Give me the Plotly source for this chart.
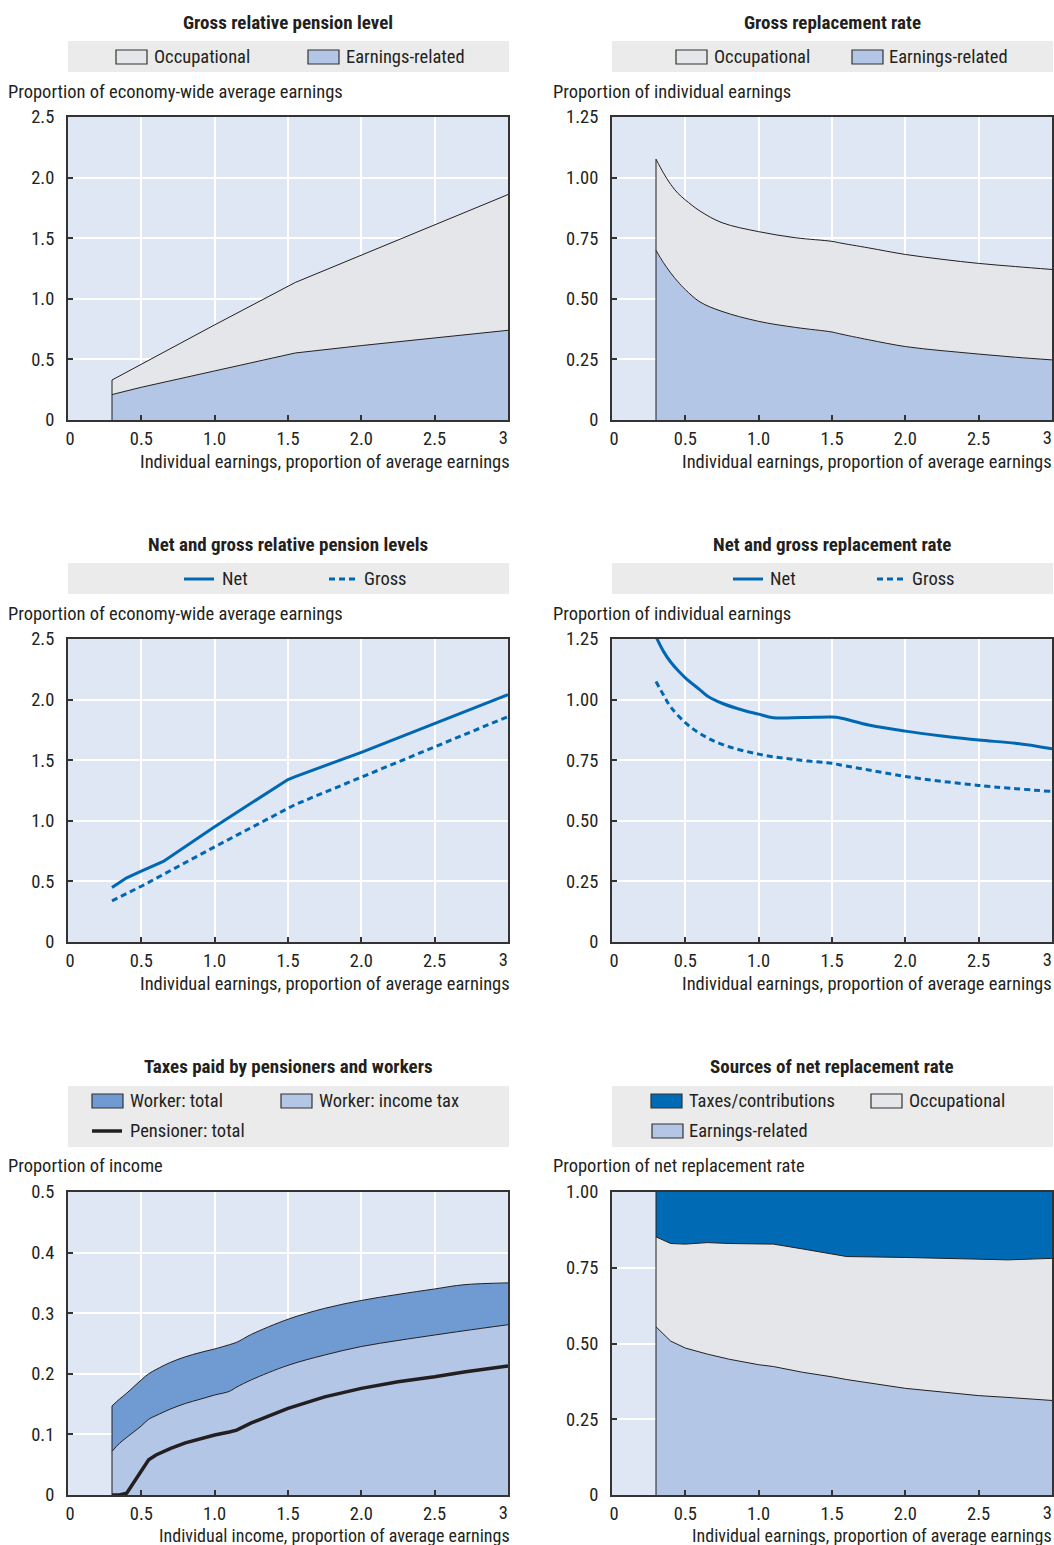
import plotly.graph_objects as go

W, H = 1054, 1545
FONT = "Liberation Sans Narrow, Arial Narrow, Roboto Condensed, DejaVu Sans Condensed, sans-serif"
TXT = "#231f20"
FRAME = "#333333"
PLOT_BG = "#dfe6f4"
EARN_C = "#b3c6e6"
OCC_C = "#e5e6e9"
WT_C = "#6f9bd2"
TAX_C = "#006ab4"
NET_C = "#0068b3"
LEG_BG = "#ebebeb"
FS = 18.5
TFS = 19
NB = "\u00a0"

# ---------------- data ----------------
x_ticks = [0, 0.5, 1.0, 1.5, 2.0, 2.5, 3.0]
x_tick_text = ["0", "0.5", "1.0", "1.5", "2.0", "2.5", "3"]

# Panel 1: gross relative pension level (cumulative boundaries)
p1_x = [0.3, 0.5, 1.0, 1.55, 2.0, 2.5, 3.0]
p1_earnings = [0.21, 0.27, 0.405, 0.553, 0.614, 0.677, 0.74]
p1_earn_plus_occ = [0.33, 0.46, 0.785, 1.135, 1.36, 1.61, 1.86]
p1_yticks = [0, 0.5, 1.0, 1.5, 2.0, 2.5]
p1_ytext = ["0", "0.5", "1.0", "1.5", "2.0", "2.5"]

# Panel 2: gross replacement rate
p2_x = [0.3, 0.35, 0.4, 0.45, 0.5, 0.6, 0.75, 1.0, 1.25, 1.5, 1.55, 1.75, 2.0, 2.25, 2.5, 2.75, 3.0]
p2_earnings = [0.70, 0.65, 0.607, 0.57, 0.538, 0.487, 0.448, 0.407, 0.382, 0.363, 0.356, 0.331, 0.303, 0.286, 0.272, 0.259, 0.248]
p2_earn_plus_occ = [1.076, 1.02, 0.972, 0.935, 0.908, 0.862, 0.814, 0.777, 0.752, 0.737, 0.731, 0.71, 0.683, 0.663, 0.646, 0.633, 0.621]
p2_yticks = [0, 0.25, 0.5, 0.75, 1.0, 1.25]
p2_ytext = ["0", "0.25", "0.50", "0.75", "1.00", "1.25"]

# Panel 3: net and gross relative pension levels
p3_x_net = [0.3, 0.4, 0.5, 0.65, 1.0, 1.1, 1.5, 1.55, 2.0, 2.5, 3.0]
p3_net = [0.45, 0.53, 0.585, 0.665, 0.95, 1.03, 1.34, 1.365, 1.565, 1.80, 2.04]
p3_x_gross = [0.3, 0.5, 1.0, 1.55, 2.0, 2.5, 3.0]
p3_gross = [0.34, 0.46, 0.785, 1.135, 1.36, 1.61, 1.86]

# Panel 4: net and gross replacement rate
p4_x_net = [0.3, 0.35, 0.4, 0.45, 0.5, 0.6, 0.65, 0.75, 0.9, 1.0, 1.1, 1.3, 1.5, 1.55, 1.75, 2.0, 2.25, 2.5, 2.75, 3.0]
p4_net = [1.26, 1.20, 1.155, 1.12, 1.09, 1.04, 1.015, 0.985, 0.955, 0.94, 0.925, 0.926, 0.928, 0.925, 0.895, 0.87, 0.85, 0.833, 0.82, 0.797]
p4_x_gross = [0.3, 0.35, 0.4, 0.5, 0.6, 0.75, 1.0, 1.25, 1.5, 1.55, 1.75, 2.0, 2.5, 3.0]
p4_gross = [1.075, 1.02, 0.97, 0.905, 0.86, 0.815, 0.775, 0.752, 0.737, 0.731, 0.71, 0.683, 0.646, 0.621]

# Panel 5: taxes paid by pensioners and workers
p5_x = [0.3, 0.35, 0.4, 0.5, 0.55, 0.6, 0.7, 0.8, 0.9, 1.0, 1.1, 1.15, 1.25, 1.5, 1.75, 2.0, 2.25, 2.5, 2.7, 3.0]
p5_worker_total = [0.147, 0.158, 0.168, 0.19, 0.2, 0.207, 0.219, 0.228, 0.235, 0.241, 0.248, 0.252, 0.265, 0.29, 0.308, 0.321, 0.331, 0.34, 0.347, 0.35]
p5_worker_income_tax = [0.072, 0.085, 0.095, 0.114, 0.125, 0.131, 0.142, 0.151, 0.158, 0.165, 0.171, 0.178, 0.19, 0.214, 0.231, 0.245, 0.255, 0.264, 0.271, 0.281]
p5_pensioner_total = [0.0, 0.0, 0.003, 0.04, 0.058, 0.066, 0.077, 0.086, 0.093, 0.099, 0.104, 0.107, 0.119, 0.143, 0.162, 0.176, 0.187, 0.195, 0.203, 0.213]
p5_yticks = [0, 0.1, 0.2, 0.3, 0.4, 0.5]
p5_ytext = ["0", "0.1", "0.2", "0.3", "0.4", "0.5"]

# Panel 6: sources of net replacement rate (cumulative boundaries)
p6_x = [0.3, 0.4, 0.5, 0.65, 0.8, 1.0, 1.1, 1.3, 1.5, 1.6, 2.0, 2.5, 2.7, 3.0]
p6_earnings = [0.555, 0.508, 0.485, 0.465, 0.448, 0.43, 0.424, 0.405, 0.39, 0.381, 0.352, 0.328, 0.322, 0.312]
p6_earn_plus_occ = [0.852, 0.830, 0.828, 0.833, 0.830, 0.829, 0.828, 0.812, 0.795, 0.787, 0.784, 0.780, 0.776, 0.781]
p6_total = [1.0] * len(p6_x)
p6_yticks = [0, 0.25, 0.5, 0.75, 1.0]
p6_ytext = ["0", "0.25", "0.50", "0.75", "1.00"]

# ---------------- layout geometry (pixels) ----------------
COLS = [(68, 508), (612, 1052)]
ROWS = [(117, 420), (639, 942), (1192, 1495)]


def px(x):
    return x / W


def py(y):
    return 1 - y / H


fig = go.Figure()
layout = dict(
    width=W, height=H, margin=dict(l=0, r=0, t=0, b=0, autoexpand=False),
    paper_bgcolor="white", plot_bgcolor=PLOT_BG, showlegend=False,
    font=dict(family=FONT, size=FS, color=TXT), template="none",
)

panel_specs = [
    (0, 0, [0, 2.5], p1_yticks, p1_ytext),
    (1, 0, [0, 1.25], p2_yticks, p2_ytext),
    (0, 1, [0, 2.5], p1_yticks, p1_ytext),
    (1, 1, [0, 1.25], p2_yticks, p2_ytext),
    (0, 2, [0, 0.5], p5_yticks, p5_ytext),
    (1, 2, [0, 1.0], p6_yticks, p6_ytext),
]
main_tickvals = x_ticks[:-1]
main_ticktext = [NB + x_tick_text[0]] + x_tick_text[1:-1]
for i, (c, r, yr, yt, ytt) in enumerate(panel_specs, start=1):
    sfx = "" if i == 1 else str(i)
    x0, x1 = COLS[c]
    y0, y1 = ROWS[r]
    layout["xaxis" + sfx] = dict(
        domain=[px(x0), px(x1)], anchor="y" + sfx, range=[0, 3],
        tickvals=main_tickvals, ticktext=main_ticktext, showgrid=True, gridcolor="white",
        gridwidth=1.5, ticks="inside", ticklen=5, tickwidth=1.5, tickcolor=FRAME,
        showline=True, mirror=True, linecolor=FRAME, linewidth=2, zeroline=False,
        tickfont=dict(size=FS, color=TXT), ticklabelstandoff=1, automargin=False,
    )
    layout["yaxis" + sfx] = dict(
        domain=[py(y1), py(y0)], anchor="x" + sfx, range=yr,
        tickvals=yt, ticktext=ytt, showgrid=True, gridcolor="white",
        gridwidth=1.5, ticks="inside", ticklen=5, tickwidth=1.5, tickcolor=FRAME,
        showline=True, mirror=True, linecolor=FRAME, linewidth=2, zeroline=False,
        tickfont=dict(size=FS, color=TXT), ticklabelstandoff=8, automargin=False,
    )
    # overlay axis carrying only the last x label, right-aligned to its tick
    ov = "xaxis%d" % (i + 6)
    layout[ov] = dict(
        overlaying="x" + sfx, anchor="y" + sfx, side="bottom", range=[0, 3],
        tickvals=[x_ticks[-1]], ticktext=[x_tick_text[-1]], ticklabelposition="outside left",
        showgrid=False, showline=False, zeroline=False, ticks="",
        tickfont=dict(size=FS, color=TXT), ticklabelstandoff=4, automargin=False,
        ticklabeloverflow="allow",
    )


def ax(i):
    return ("x", "y") if i == 1 else ("x%d" % i, "y%d" % i)


def add(i, **kw):
    xa, ya = ax(i)
    fig.add_trace(go.Scatter(xaxis=xa, yaxis=ya, hoverinfo="skip", **kw))


EDGE = dict(color="#231f20", width=1)

# Panel 1
add(1, x=p1_x, y=p1_earnings, mode="lines", fill="tozeroy", fillcolor=EARN_C, line=EDGE)
add(1, x=p1_x, y=p1_earn_plus_occ, mode="lines", fill="tonexty", fillcolor=OCC_C, line=EDGE)
add(1, x=[p1_x[0], p1_x[0]], y=[0, p1_earn_plus_occ[0]], mode="lines", line=EDGE)

# Panel 2
add(2, x=p2_x, y=p2_earnings, mode="lines", fill="tozeroy", fillcolor=EARN_C, line=dict(EDGE, shape="spline"))
add(2, x=p2_x, y=p2_earn_plus_occ, mode="lines", fill="tonexty", fillcolor=OCC_C, line=dict(EDGE, shape="spline"))
add(2, x=[p2_x[0], p2_x[0]], y=[0, p2_earn_plus_occ[0]], mode="lines", line=EDGE)

# Panel 3
add(3, x=p3_x_gross, y=p3_gross, mode="lines", line=dict(color=NET_C, width=3, dash="6px,4px"))
add(3, x=p3_x_net, y=p3_net, mode="lines", line=dict(color=NET_C, width=3))

# Panel 4
add(4, x=p4_x_gross, y=p4_gross, mode="lines", line=dict(color=NET_C, width=3, dash="6px,4px", shape="spline"))
add(4, x=p4_x_net, y=p4_net, mode="lines", line=dict(color=NET_C, width=3, shape="spline"))

# Panel 5
add(5, x=p5_x, y=p5_worker_total, mode="lines", fill="tozeroy", fillcolor=WT_C, line=dict(EDGE, shape="spline"))
add(5, x=p5_x, y=p5_worker_income_tax, mode="lines", fill="tozeroy", fillcolor=EARN_C, line=dict(EDGE, shape="spline"))
add(5, x=[p5_x[0], p5_x[0]], y=[0, p5_worker_total[0]], mode="lines", line=EDGE)
add(5, x=p5_x, y=p5_pensioner_total, mode="lines", line=dict(color="#231f20", width=3.5))

# Panel 6
add(6, x=p6_x, y=p6_earnings, mode="lines", fill="tozeroy", fillcolor=EARN_C, line=EDGE)
add(6, x=p6_x, y=p6_earn_plus_occ, mode="lines", fill="tonexty", fillcolor=OCC_C, line=EDGE)
add(6, x=p6_x, y=p6_total, mode="lines", fill="tonexty", fillcolor=TAX_C, line=dict(width=0))
add(6, x=[p6_x[0], p6_x[0]], y=[0, p6_total[0]], mode="lines", line=EDGE)

# empty traces that register the overlay axes carrying the last x tick label
for i in range(1, 7):
    fig.add_trace(go.Scatter(x=[], y=[], xaxis="x%d" % (i + 6), yaxis=ax(i)[1], hoverinfo="skip"))

# ---------------- annotations and legend boxes ----------------
ann = []
shapes = []


def text(x, y, s, xanchor="left", size=FS, bold=False):
    ann.append(dict(
        xref="paper", yref="paper", x=px(x), y=py(y), text=("<b>%s</b>" % s if bold else s),
        showarrow=False, xanchor=xanchor, yanchor="middle",
        font=dict(family=FONT, size=size, color=TXT),
    ))


def box_sym(x, y, color):
    shapes.append(dict(type="rect", xref="paper", yref="paper",
                       x0=px(x), x1=px(x + 31), y0=py(y + 7), y1=py(y - 7),
                       fillcolor=color, line=dict(color=FRAME, width=1.2)))


def line_sym(x, y, color, width=3, dash="solid"):
    shapes.append(dict(type="line", xref="paper", yref="paper",
                       x0=px(x), x1=px(x + 30), y0=py(y), y1=py(y),
                       line=dict(color=color, width=width, dash=dash)))


def legend_bg(c, y0, y1):
    x0, x1 = COLS[c]
    shapes.append(dict(type="rect", xref="paper", yref="paper", layer="below",
                       x0=px(x0), x1=px(x1 + 1), y0=py(y1), y1=py(y0),
                       fillcolor=LEG_BG, line=dict(width=0)))


titles = [
    (0, 22, "Gross relative pension level"),
    (1, 22, "Gross replacement rate"),
    (0, 544, "Net and gross relative pension levels"),
    (1, 544, "Net and gross replacement rate"),
    (0, 1066, "Taxes paid by pensioners and workers"),
    (1, 1066, "Sources of net replacement rate"),
]
for c, y, s in titles:
    x0, x1 = COLS[c]
    text((x0 + x1) / 2, y, s, xanchor="center", size=TFS, bold=True)

ytitles = [
    (6, 92, "Proportion of economy-wide average earnings"),
    (551, 92, "Proportion of individual earnings"),
    (6, 614, "Proportion of economy-wide average earnings"),
    (551, 614, "Proportion of individual earnings"),
    (6, 1166, "Proportion of income"),
    (551, 1166, "Proportion of net replacement rate"),
]
for x, y, s in ytitles:
    text(x, y, s)

xtitles = [
    (0, 462, FS, "Individual earnings, proportion of average earnings"),
    (1, 462, FS, "Individual earnings, proportion of average earnings"),
    (0, 984, FS, "Individual earnings, proportion of average earnings"),
    (1, 984, FS, "Individual earnings, proportion of average earnings"),
    (0, 1535, 18, "Individual income, proportion of average earnings"),
    (1, 1535, 18, "Individual earnings, proportion of average earnings"),
]
for c, y, s_, s in xtitles:
    text(min(COLS[c][1] + 4, W), y, s, xanchor="right", size=s_)

# legends row 1
legend_bg(0, 41, 72)
legend_bg(1, 41, 72)
box_sym(116, 57, OCC_C); text(152, 57, "Occupational")
box_sym(308, 57, EARN_C); text(344, 57, "Earnings-related")
box_sym(676, 57, OCC_C); text(712, 57, "Occupational")
box_sym(852, 57, EARN_C); text(887, 57, "Earnings-related")

# legends row 2
legend_bg(0, 563, 594)
legend_bg(1, 563, 594)
line_sym(184, 579, NET_C); text(220, 579, "Net")
line_sym(329, 579, NET_C, dash="6px,4px"); text(362, 579, "Gross")
line_sym(733, 579, NET_C); text(768, 579, "Net")
line_sym(877, 579, NET_C, dash="6px,4px"); text(910, 579, "Gross")

# legends row 3
legend_bg(0, 1086, 1147)
legend_bg(1, 1086, 1147)
box_sym(92, 1101, WT_C); text(128, 1101, "Worker: total")
box_sym(281, 1101, EARN_C); text(317, 1101, "Worker: income tax")
line_sym(92, 1131, "#231f20", width=3.5); text(128, 1131, "Pensioner: total")
box_sym(651, 1101, TAX_C); text(687, 1101, "Taxes/contributions")
box_sym(871, 1101, OCC_C); text(907, 1101, "Occupational")
box_sym(652, 1131, EARN_C); text(687, 1131, "Earnings-related")

layout["annotations"] = ann
layout["shapes"] = shapes
fig.update_layout(**layout)
fig.write_html(
    "out.html",
    config={"responsive": False, "displayModeBar": False},
    post_script="document.body.style.margin='0';document.body.style.padding='0';",
)
